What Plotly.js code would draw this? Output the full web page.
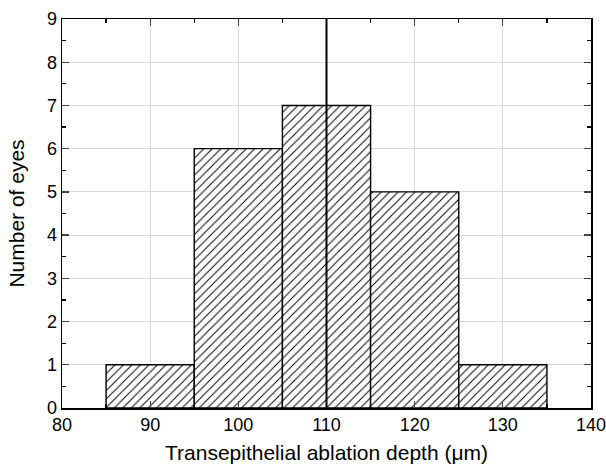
<!DOCTYPE html>
<html><head><meta charset="utf-8">
<script src="https://cdn.plot.ly/plotly-3.0.1.min.js"></script>
<style>body{margin:0;padding:0;background:#fff}#chart{width:606px;height:465px}</style>
</head><body><div id="chart"></div>
<script>
const binCenters = [90, 100, 110, 120, 130];
const counts = [1, 6, 7, 5, 1];
const binWidth = 10;
const meanDepth = 110;
const xTickVals = [80, 90, 100, 110, 120, 130, 140];
const yTickVals = [0, 1, 2, 3, 4, 5, 6, 7, 8, 9];

const tickFont = {family: 'Liberation Sans, Arial, sans-serif', size: 18, color: '#000'};
const titleFont = {family: 'Liberation Sans, Arial, sans-serif', size: 21, color: '#000'};

const data = [{
  type: 'bar',
  x: binCenters,
  y: counts,
  width: binCenters.map(() => binWidth),
  marker: {
    color: '#fff',
    line: {color: '#000', width: 1.4},
    pattern: {shape: '/', fgcolor: '#000', bgcolor: '#fff', size: 6, solidity: 0.16}
  },
  hoverinfo: 'skip'
}];

const layout = {
  width: 606, height: 465,
  margin: {l: 62, r: 15, t: 19, b: 57},
  paper_bgcolor: '#fff', plot_bgcolor: '#fff',
  font: tickFont,
  showlegend: false,
  bargap: 0,
  xaxis: {
    range: [80, 140], tickvals: xTickVals, ticks: 'inside', ticklen: 7, tickwidth: 1.3,
    showline: true, linecolor: '#000', linewidth: 1.5, mirror: 'ticks',
    showgrid: true, gridcolor: '#d9d9d9', gridwidth: 1, zeroline: false, automargin: false,
    ticklabeloverflow: 'allow',
    minor: {dtick: 5, tick0: 0, ticks: 'inside', ticklen: 4, tickcolor: '#000', showgrid: false},
    title: {text: 'Transepithelial ablation depth (μm)', font: titleFont, standoff: 11},
    tickfont: tickFont
  },
  yaxis: {
    range: [0, 9], tickvals: yTickVals, ticks: 'inside', ticklen: 7, tickwidth: 1.3,
    showline: true, linecolor: '#000', linewidth: 1.5, mirror: 'ticks',
    showgrid: true, gridcolor: '#d9d9d9', gridwidth: 1, zeroline: false, automargin: false,
    minor: {dtick: 0.5, tick0: 0, ticks: 'inside', ticklen: 4, tickcolor: '#000', showgrid: false},
    title: {text: 'Number of eyes', font: titleFont, standoff: 16},
    tickfont: tickFont
  },
  shapes: [{
    type: 'line', xref: 'x', yref: 'paper', x0: meanDepth, x1: meanDepth, y0: 0, y1: 1,
    line: {color: '#000', width: 2}
  }]
};

Plotly.newPlot('chart', data, layout, {displayModeBar: false, staticPlot: true});
</script></body></html>
